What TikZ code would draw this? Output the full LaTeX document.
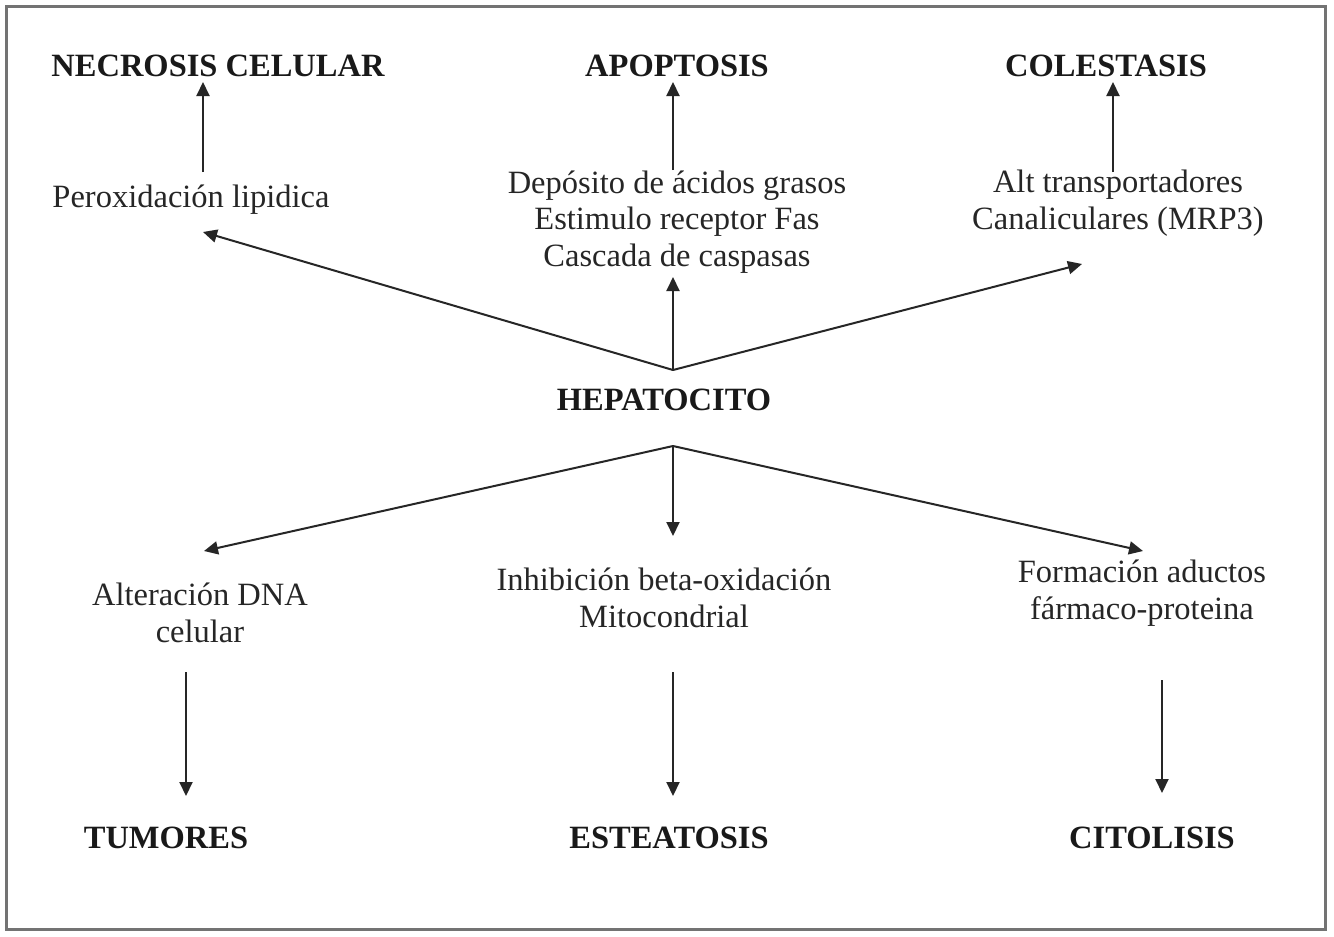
\documentclass[tikz,border=0pt]{standalone}
\usepackage{fontspec}
\setmainfont{Liberation Serif}
\usetikzlibrary{arrows.meta}
\begin{document}
\begin{tikzpicture}[x=1pt,y=-1pt,
  txt/.style={font=\fontsize{32.5}{36.5}\selectfont, align=center, inner sep=0pt, text=black!85},
  head/.style={font=\fontsize{32.5}{36.5}\selectfont\bfseries, inner sep=0pt, text=black!90},
  arr/.style={draw=black!85, line width=2pt, -{Triangle[length=14pt,width=13pt]}},
  frame/.style={draw=black!55, line width=3pt}]
\useasboundingbox (0,0) rectangle (1334,937);
\fill[white] (0,0) rectangle (1334,937);
\draw[frame] (6,6) rectangle (1325,929);

% headings
\node[head] (necrosis) at (218,66) {NECROSIS CELULAR};
\node[head] (apoptosis) at (677,66) {APOPTOSIS};
\node[head] (colestasis) at (1106,66) {COLESTASIS};
\node[head] (hepatocito) at (664,400) {HEPATOCITO};
\node[head] (tumores) at (166,838) {TUMORES};
\node[head] (esteatosis) at (669,838) {ESTEATOSIS};
\node[head] (citolisis) at (1152,838) {CITOLISIS};

% mechanisms
\node[txt] (perox) at (191,200) {Peroxidación lipidica};
\node[txt] (deposito) at (677,222) {Depósito de ácidos grasos\\Estimulo receptor Fas\\Cascada de caspasas};
\node[txt] (transp) at (1118,203) {Alt transportadores\\Canaliculares (MRP3)};
\node[txt] (dna) at (200,613) {Alteración DNA\\celular};
\node[txt] (inhib) at (664,598) {Inhibición beta-oxidación\\Mitocondrial};
\node[txt] (aductos) at (1142,593) {Formación aductos\\fármaco-proteina};

% connector points
\coordinate (hubT) at (673,370);
\coordinate (hubB) at (673,446);
\coordinate (pA) at (203,172);
\coordinate (pB) at (203,82);
\coordinate (aA) at (673,170);
\coordinate (aB) at (673,82);
\coordinate (cA) at (1113,172);
\coordinate (cB) at (1113,82);
\coordinate (tPerox) at (203,232);
\coordinate (tDep) at (673,277);
\coordinate (tTransp) at (1082,264);
\coordinate (tDna) at (204,551);
\coordinate (tInhib) at (673,536);
\coordinate (tAduc) at (1143,551);
\coordinate (dA) at (186,672);
\coordinate (dB) at (186,796);
\coordinate (eA) at (673,672);
\coordinate (eB) at (673,796);
\coordinate (fA) at (1162,680);
\coordinate (fB) at (1162,793);

% arrows
\draw[arr] (pA) -- (pB);
\draw[arr] (aA) -- (aB);
\draw[arr] (cA) -- (cB);
\draw[arr] (hubT) -- (tPerox);
\draw[arr] (hubT) -- (tDep);
\draw[arr] (hubT) -- (tTransp);
\draw[arr] (hubB) -- (tDna);
\draw[arr] (hubB) -- (tInhib);
\draw[arr] (hubB) -- (tAduc);
\draw[arr] (dA) -- (dB);
\draw[arr] (eA) -- (eB);
\draw[arr] (fA) -- (fB);
\end{tikzpicture}
\end{document}
